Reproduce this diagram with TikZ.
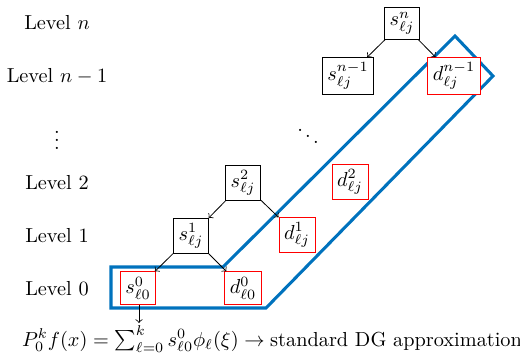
\documentclass[tikz,border=0pt]{standalone}
\usepackage{amsmath}
\definecolor{dgblue}{RGB}{0,114,189}
\begin{document}
\begin{tikzpicture}[x=0.4926pt,y=-0.4926pt,
  sbox/.style={draw=black,thin,fill=white,inner sep=2.5pt},
  dbox/.style={draw=red,thin,fill=white,inner sep=2.5pt},
  lev/.style={anchor=center},
  tree/.style={->,thin}]
\useasboundingbox (0,0) rectangle (520,353);
% blue region
\draw[dgblue,line width=1.5pt,line join=miter] (111,267) -- (223,267) -- (455,36) -- (493,76) -- (266,308) -- (111,308) -- cycle;
% level labels
\node[lev] (ln) at (57,23) {Level $n$};
\node[lev] (ln1) at (57,76) {Level $n-1$};
\node[lev] (lvd) at (57,134) {$\vdots$};
\node[lev] (l2) at (57,183) {Level 2};
\node[lev] (l1) at (57,236) {Level 1};
\node[lev] (l0) at (57,289) {Level 0};
% nodes
\node[sbox] (sn) at (402,23) {$s^{n}_{\ell j}$};
\node[sbox] (sn1) at (348,76) {$s^{n-1}_{\ell j}$};
\node[dbox] (dn1) at (454,76) {$d^{n-1}_{\ell j}$};
\node (dd) at (308,130) {$\ddots$};
\node[sbox] (s2) at (243,183) {$s^{2}_{\ell j}$};
\node[dbox] (d2) at (350,182) {$d^{2}_{\ell j}$};
\node[sbox] (s1) at (191,236) {$s^{1}_{\ell j}$};
\node[dbox] (d1) at (297,235) {$d^{1}_{\ell j}$};
\node[dbox] (s0) at (138,288) {$s^{0}_{\ell 0}$};
\node[dbox] (d0) at (243,288) {$d^{0}_{\ell 0}$};
\node (eq) at (272,339) {$P_0^k f(x) = \sum_{\ell=0}^{k} s^0_{\ell 0}\phi_\ell(\xi) \rightarrow \text{standard DG approximation}$};
\coordinate (eqtop) at (139,323);
% edges
\draw[tree] (sn) -- (sn1);
\draw[tree] (sn) -- (dn1);
\draw[tree] (s2) -- (s1);
\draw[tree] (s2) -- (d1);
\draw[tree] (s1) -- (s0);
\draw[tree] (s1) -- (d0);
\draw[tree] (s0.south -| eqtop) -- (eqtop);
\end{tikzpicture}
\end{document}
